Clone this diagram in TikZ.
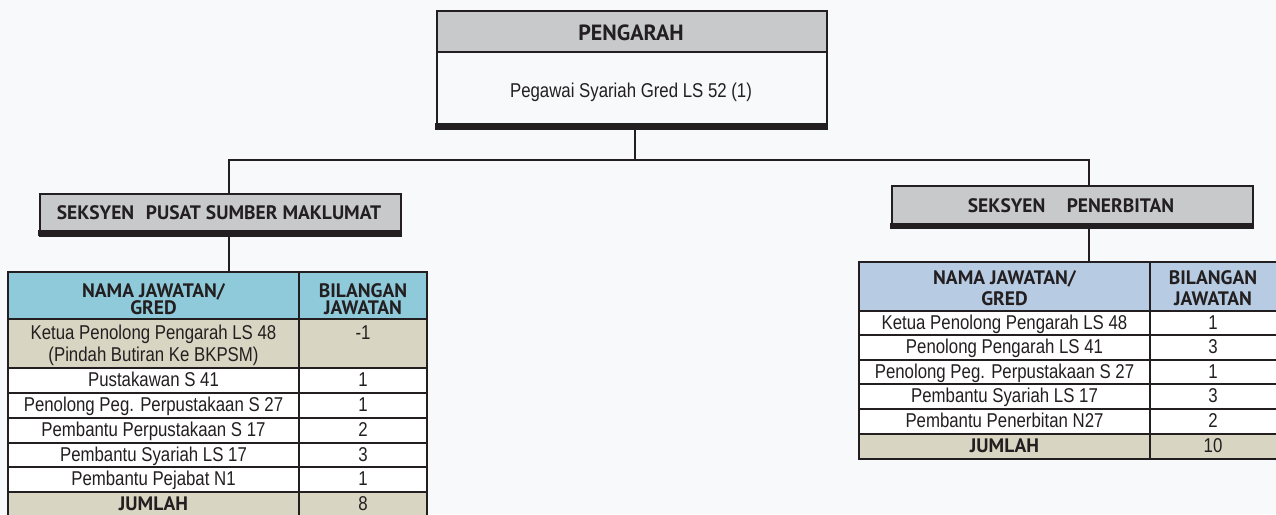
\documentclass[tikz,border=0pt]{standalone}
\usepackage{fontspec}
\setmainfont{Liberation Sans}[FakeStretch=0.84]
\newfontfamily\hdrfont{PT Sans}
\definecolor{bgc}{HTML}{F8F9FB}
\definecolor{boxgray}{HTML}{C8C9CB}
\definecolor{tealh}{HTML}{8FCADB}
\definecolor{blueh}{HTML}{B7CBE3}
\definecolor{tan}{HTML}{D8D5C2}
\definecolor{ink}{HTML}{231F20}
\tikzset{
  txt/.style={font=\fontsize{20}{20}\selectfont, text=ink, inner sep=0, anchor=base},
  hdr/.style={font=\hdrfont\bfseries\fontsize{19.5}{19.5}\selectfont, text=ink, inner sep=0, anchor=base},
  boxline/.style={draw=ink, line width=2pt},
  grid/.style={draw=ink, line width=2.2pt},
  conn/.style={draw=ink, line width=2pt},
  frame/.style={draw=none, inner sep=0, anchor=north west}
}
\begin{document}
\begin{tikzpicture}[x=1pt,y=-1pt]
\useasboundingbox (0,0) rectangle (1276,514);
\fill[bgc] (0,0) rectangle (1276,514);
\clip (0,0) rectangle (1276,514);

% ---------- top box ----------
\fill[bgc] (436,10) rectangle (826,128);
\fill[boxgray] (436,10) rectangle (826,52);
\node[frame, boxline, minimum width=390pt, minimum height=118pt] (dir) at (436,10) {};
\draw[boxline] (436,52) -- (826,52);
\fill[ink] (435,123) rectangle (827,129.5);
\node[hdr, font=\hdrfont\bfseries\fontsize{22}{22}\selectfont] (dirT) at (631,40) {PENGARAH};
\node[txt] (dirS) at (631,97) {Pegawai Syariah Gred LS 52 (1)};

% ---------- section boxes ----------
\node[frame, boxline, fill=boxgray, minimum width=361pt, minimum height=42pt] (secL) at (38.5,193) {};
\fill[ink] (37.5,230) rectangle (400.5,236);
\node[hdr] (secLT) at (219,219) {SEKSYEN\hspace{0.6em}PUSAT SUMBER MAKLUMAT};

\node[frame, boxline, fill=boxgray, minimum width=361pt, minimum height=42pt] (secR) at (890.5,185) {};
\fill[ink] (889.5,223) rectangle (1252.5,229);
\node[hdr] (secRT) at (1071,212) {SEKSYEN\hspace{1.1em}PENERBITAN};

% ---------- left table ----------
\fill[tealh] (8,272) rectangle (427,319);
\fill[tan] (8,319) rectangle (427,368);
\fill[white] (8,368) rectangle (427,492);
\fill[tan] (8,492) rectangle (427,520);
\node[frame, minimum width=419pt, minimum height=248pt] (tabL) at (8,272) {};
\draw[grid] (8,272) rectangle (427,520);
\foreach \yy in {319,368,393,418,443,467,492} \draw[grid] (8,\yy) -- (427,\yy);
\draw[grid] (299,272) -- (299,520);

\node[hdr] (lh1) at (153.5,297) {NAMA JAWATAN/};
\node[hdr] (lh2) at (153.5,314) {GRED};
\node[hdr] (lh3) at (363,297) {BILANGAN};
\node[hdr] (lh4) at (363,314) {JAWATAN};
\node[txt] (l1a) at (153.5,339) {Ketua Penolong Pengarah LS 48};
\node[txt] (l1b) at (153.5,361) {(Pindah Butiran Ke BKPSM)};
\node[txt] (l1c) at (363,339) {-1};
\node[txt] (l2a) at (153.5,386) {Pustakawan S 41};
\node[txt] (l2c) at (363,386) {1};
\node[txt] (l3a) at (153.5,411) {Penolong Peg. Perpustakaan S 27};
\node[txt] (l3c) at (363,411) {1};
\node[txt] (l4a) at (153.5,436) {Pembantu Perpustakaan S 17};
\node[txt] (l4c) at (363,436) {2};
\node[txt] (l5a) at (153.5,461) {Pembantu Syariah LS 17};
\node[txt] (l5c) at (363,461) {3};
\node[txt] (l6a) at (153.5,485) {Pembantu Pejabat N1};
\node[txt] (l6c) at (363,485) {1};
\node[hdr] (l7a) at (153.5,510) {JUMLAH};
\node[txt] (l7c) at (363,510) {8};

% ---------- right table ----------
\fill[blueh] (859,262) rectangle (1280,311);
\fill[white] (859,311) rectangle (1280,434);
\fill[tan] (859,434) rectangle (1280,459);
\node[frame, minimum width=421pt, minimum height=197pt] (tabR) at (859,262) {};
\draw[grid] (859,262) rectangle (1280,459);
\foreach \yy in {311,335,360,384,409,434} \draw[grid] (859,\yy) -- (1280,\yy);
\draw[grid] (1150,262) -- (1150,459);

\node[hdr] (rh1) at (1004.5,284) {NAMA JAWATAN/};
\node[hdr] (rh2) at (1004.5,305) {GRED};
\node[hdr] (rh3) at (1213,284) {BILANGAN};
\node[hdr] (rh4) at (1213,305) {JAWATAN};
\node[txt] (r1a) at (1004.5,329) {Ketua Penolong Pengarah LS 48};
\node[txt] (r1c) at (1213,329) {1};
\node[txt] (r2a) at (1004.5,353) {Penolong Pengarah LS 41};
\node[txt] (r2c) at (1213,353) {3};
\node[txt] (r3a) at (1004.5,378) {Penolong Peg. Perpustakaan S 27};
\node[txt] (r3c) at (1213,378) {1};
\node[txt] (r4a) at (1004.5,402) {Pembantu Syariah LS 17};
\node[txt] (r4c) at (1213,402) {3};
\node[txt] (r5a) at (1004.5,427) {Pembantu Penerbitan N27};
\node[txt] (r5c) at (1213,427) {2};
\node[hdr] (r6a) at (1004.5,452) {JUMLAH};
\node[txt] (r6c) at (1213,452) {10};

% ---------- connectors ----------
\coordinate (bus) at (635,160);
\draw[conn] (dir.south -| bus) -- (bus);
\draw[conn] ([xshift=9pt]secL.north) |- (bus) -| ([xshift=16.5pt]secR.north);
\draw[conn] ([xshift=9pt]secL.south) -- ([xshift=9pt]secL.south |- tabL.north);
\draw[conn] ([xshift=16.5pt]secR.south) -- ([xshift=16.5pt]secR.south |- tabR.north);
\end{tikzpicture}
\end{document}
